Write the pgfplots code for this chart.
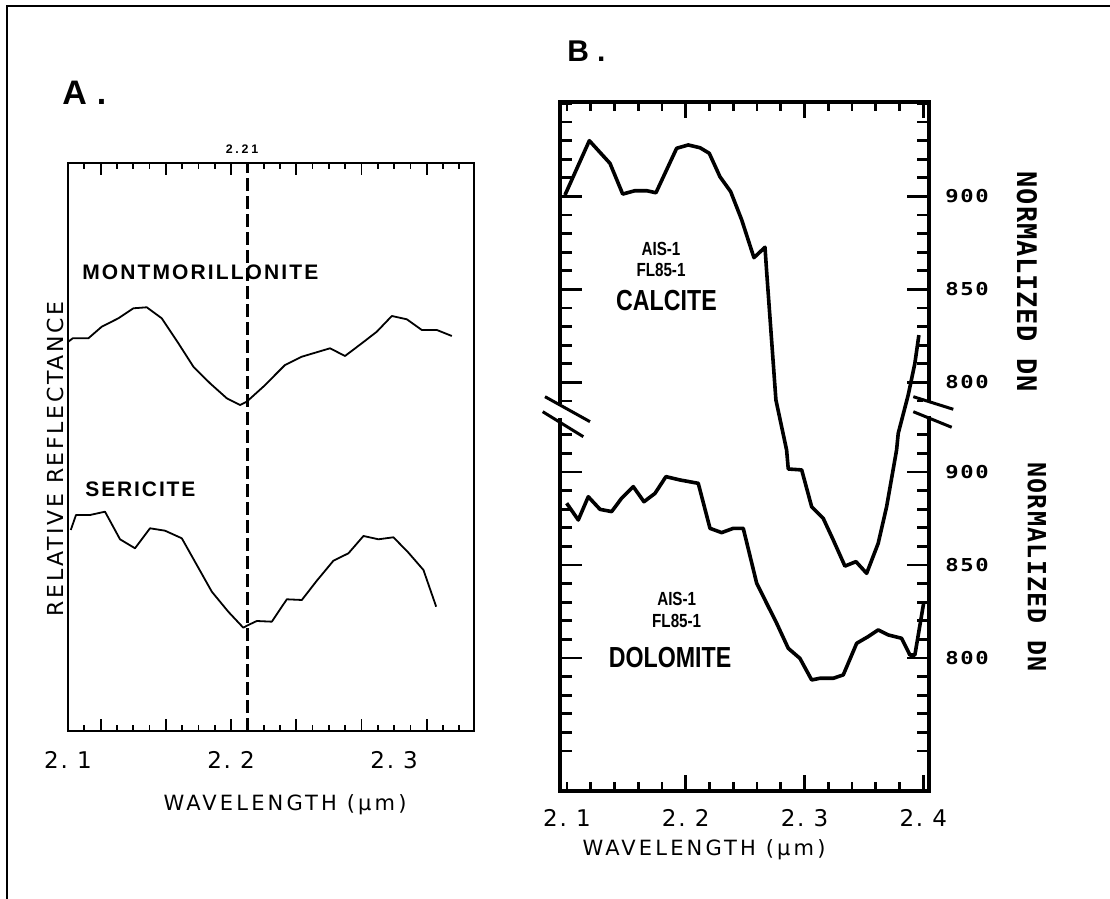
\documentclass[border=0pt]{standalone}
\usepackage{fontspec}
\setmainfont{Liberation Sans}
\newfontfamily\plotfont{DejaVu Sans}
\newfontfamily\numfont[FakeStretch=1.25]{DejaVu Sans Mono}
\newfontfamily\dnfont{DejaVu Sans Mono}
\newfontfamily\condfont[FakeStretch=0.8]{Liberation Sans}
\usepackage{pgfplots}
\pgfplotsset{compat=1.18}

\newcommand\ticklab{\plotfont\fontsize{11.5}{11.5}\selectfont\addfontfeatures{LetterSpace=8}}
\newcommand\wavelab{\plotfont\fontsize{10.5}{10.5}\selectfont\addfontfeatures{LetterSpace=15}}
\newcommand\dnlab{\numfont\bfseries\fontsize{8.9}{8.9}\selectfont\addfontfeatures{LetterSpace=9}}

\pgfplotsset{
  panel/.style={scale only axis, anchor=south west, clip=true},
}

\begin{document}
\begin{tikzpicture}
\useasboundingbox (0,0) rectangle (555pt,449.5pt);

% ---------- panel A ----------
\begin{axis}[panel,
  at={(34pt,84pt)}, width=203pt, height=284pt,
  xmin=2.1, xmax=2.349, ymin=0, ymax=568,
  axis line style={line width=1.1pt},
  xtick={2.12,2.16,2.20,2.24,2.28,2.32},
  xticklabels={,,,,,},
  minor xtick={2.11,2.13,2.14,2.15,2.17,2.18,2.19,2.21,2.22,2.23,2.25,2.26,2.27,2.29,2.30,2.31,2.33,2.34},
  ytick=\empty,
  major tick length=6pt, minor tick length=3pt,
  tick style={line width=0.9pt, black},
  extra x ticks={2.1,2.2,2.3},
  extra x tick labels={2.\ 1,2.\ 2,2.\ 3},
  extra x tick style={tick style={draw=none}},
  xticklabel style={font=\ticklab, anchor=center, inner sep=0pt, yshift=-14.5pt},
]
% montmorillonite
\addplot[black, line width=0.9pt, line join=round] coordinates {
(2.1002,389.3) (2.1029,392.7) (2.1125,392.7) (2.1207,404.3) (2.1309,412.7)
(2.1401,422.7) (2.1483,423.7) (2.1575,412.7) (2.1677,387.7) (2.1769,364.3)
(2.1871,347.7) (2.1974,332.7) (2.2055,326) (2.2096,329.3) (2.2198,344.3)
(2.2331,366) (2.2434,374.3) (2.2607,382.7) (2.2699,375) (2.2802,387.7)
(2.2894,399.3) (2.2986,415) (2.3078,411.7) (2.3170,401) (2.3262,401) (2.3354,395)
};
% sericite
\addplot[black, line width=0.9pt, line join=round] coordinates {
(2.1017,201) (2.1049,216) (2.1135,216) (2.1227,219.3) (2.1319,191.7)
(2.1411,182.7) (2.1503,202.7) (2.1595,200.3) (2.1698,192.7) (2.1790,166)
(2.1882,139.3) (2.1983,119.3) (2.2075,103.3) (2.2106,106) (2.2158,110)
(2.2250,109.3) (2.2342,131.7) (2.2434,131) (2.2526,150.3) (2.2628,170.3)
(2.2720,177.7) (2.2812,195) (2.2904,191.7) (2.2996,193.7) (2.3088,178.3)
(2.3180,161) (2.3258,124.3)
};
% 2.21 um feature
\addplot[black, line width=1.2pt, dash pattern=on 6.5pt off 2.5pt] coordinates {(2.21,0) (2.21,568)};
\end{axis}

% ---------- panel B: frame and wavelength ticks ----------
\begin{axis}[panel,
  at={(280pt,54pt)}, width=184.5pt, height=344.5pt,
  xmin=2.0941, xmax=2.4048, ymin=0, ymax=1,
  axis line style={line width=2pt},
  xtick={2.2,2.3,2.4},
  xticklabels={,,},
  minor xtick={2.10,2.12,2.14,2.16,2.18,2.22,2.24,2.26,2.28,2.32,2.34,2.36,2.38},
  ytick=\empty,
  major tick length=8pt, minor tick length=4.5pt,
  tick style={line width=1.4pt, black},
  extra x ticks={2.1,2.2,2.3,2.4},
  extra x tick labels={2.\ 1,2.\ 2,2.\ 3,2.\ 4},
  extra x tick style={tick style={draw=none}},
  xticklabel style={font=\ticklab, anchor=center, inner sep=0pt, yshift=-13.5pt},
]
\end{axis}

% calcite, upper DN scale
\begin{axis}[panel,
  at={(280pt,54pt)}, width=184.5pt, height=344.5pt,
  xmin=2.0941, xmax=2.4048, ymin=580.4, ymax=950.8,
  axis line style={draw=none},
  xtick=\empty,
  ytick={800,850,900}, yticklabels={800,850,900},
  minor ytick={790,810,820,830,840,860,870,880,890,910,920,930,940,950},
  yticklabel pos=right, ytick pos=both,
  major tick length=11pt, minor tick length=6pt,
  tick style={line width=1.4pt, black},
  yticklabel style={font=\dnlab, anchor=center, inner sep=0pt, xshift=19pt},
]
\addplot[black, line width=1.8pt, line join=round] coordinates {
(2.0983,900.8) (2.1188,930.0) (2.1362,917.8) (2.1469,901.3) (2.1572,903.1)
(2.1671,903.1) (2.1749,902.0) (2.1923,925.9) (2.2021,927.7) (2.2120,926.2)
(2.2198,923.2) (2.2288,910.6) (2.2378,902.6) (2.2471,887.4) (2.2574,867.1)
(2.2667,872.7) (2.2681,859.6) (2.2759,790.6) (2.2849,763.7) (2.2863,753.5)
(2.2976,753.0) (2.3060,733.2) (2.3157,727.0) (2.3242,715.3) (2.3340,701.3)
(2.3433,703.7) (2.3523,697.4) (2.3620,713.5) (2.3691,733.2) (2.3775,763.7)
(2.3789,772.7) (2.3873,793.3) (2.3929,810.3) (2.3963,825.5)
};
\end{axis}

% dolomite, lower DN scale
\begin{axis}[panel,
  at={(280pt,54pt)}, width=184.5pt, height=344.5pt,
  xmin=2.0941, xmax=2.4048, ymin=728.5, ymax=1098.9,
  axis line style={draw=none},
  xtick=\empty,
  ytick={800,850,900}, yticklabels={800,850,900},
  minor ytick={750,760,770,780,790,810,820,830,840,860,870,880,890,910,920},
  yticklabel pos=right, ytick pos=both,
  major tick length=11pt, minor tick length=6pt,
  tick style={line width=1.4pt, black},
  yticklabel style={font=\dnlab, anchor=center, inner sep=0pt, xshift=19pt},
]
\addplot[black, line width=1.8pt, line join=round] coordinates {
(2.0997,883.2) (2.1095,874.2) (2.1179,886.7) (2.1278,879.9) (2.1376,878.7)
(2.1460,885.9) (2.1558,892.1) (2.1648,884.0) (2.1741,888.5) (2.1833,897.5)
(2.1951,895.7) (2.2105,893.9) (2.2204,869.7) (2.2302,867.4) (2.2400,869.7)
(2.2484,869.7) (2.2597,840.2) (2.2681,829.4) (2.2765,818.7) (2.2863,805.2)
(2.2961,799.8) (2.3060,788.2) (2.3130,789.1) (2.3242,789.1) (2.3326,790.9)
(2.3439,807.9) (2.3536,811.5) (2.3620,815.1) (2.3704,812.4) (2.3817,810.6)
(2.3887,801.6) (2.3929,801.6) (2.4005,830.3)
};
\end{axis}

% ---------- frame, axis breaks and text (pixel grid, y down) ----------
\begin{scope}[x=0.5pt, y=-0.5pt, shift={(0pt,449.5pt)}]
\draw[line width=1pt] (7,905) -- (7,6) -- (1115,6);

% scale breaks
\fill[white] (555,404) rectangle (566,418);
\fill[white] (923,401) rectangle (935,416);
\draw[line width=1.5pt] (545,396.7) -- (590,421.7);
\draw[line width=1.5pt] (542.7,411.7) -- (583.3,436.7);
\draw[line width=1.5pt] (913.3,396.7) -- (953.3,409.3);
\draw[line width=1.5pt] (913.3,411.7) -- (951.7,427.3);

% panel letters
\node[anchor=base west, inner sep=0pt, font=\bfseries\fontsize{17}{17}\selectfont] at (62,105) {A\hspace{5pt}.};
\node[anchor=base west, inner sep=0pt, font=\bfseries\fontsize{15}{15}\selectfont] at (567,62) {B\hspace{4pt}.};

% panel A text
\node[inner sep=0pt, font=\bfseries\fontsize{6.2}{6.2}\selectfont\addfontfeatures{LetterSpace=22}] at (242,149) {2.21};
\node[anchor=base west, inner sep=0pt, font=\bfseries\fontsize{10.5}{10.5}\selectfont\addfontfeatures{LetterSpace=10}] at (82,280) {MONTMORILLONITE};
\node[anchor=base west, inner sep=0pt, font=\bfseries\fontsize{10.5}{10.5}\selectfont\addfontfeatures{LetterSpace=9}] at (85,497) {SERICITE};
\node[rotate=90, inner sep=0pt, font=\plotfont\fontsize{11}{11}\selectfont\addfontfeatures{LetterSpace=12}] at (55,459) {RELATIVE REFLECTANCE};
\node[inner sep=0pt, font=\wavelab] at (285,805) {WAVELENGTH (μm)};

% panel B text
\node[inner sep=0pt, font=\condfont\bfseries\fontsize{9.5}{9.5}\selectfont] at (661,249) {AIS-1};
\node[inner sep=0pt, font=\condfont\bfseries\fontsize{9.5}{9.5}\selectfont] at (661,270) {FL85-1};
\node[inner sep=0pt, font=\condfont\bfseries\fontsize{14.5}{14.5}\selectfont] at (666.5,301) {CALCITE};
\node[inner sep=0pt, font=\condfont\bfseries\fontsize{9.5}{9.5}\selectfont] at (676.7,599) {AIS-1};
\node[inner sep=0pt, font=\condfont\bfseries\fontsize{9.5}{9.5}\selectfont] at (676.7,621) {FL85-1};
\node[inner sep=0pt, font=\condfont\bfseries\fontsize{14.5}{14.5}\selectfont] at (670,658) {DOLOMITE};
\node[inner sep=0pt, font=\wavelab] at (704,850) {WAVELENGTH (μm)};
\node[rotate=-90, inner sep=0pt, font=\dnfont\bfseries\fontsize{13.5}{13.5}\selectfont\addfontfeatures{LetterSpace=3}] at (1027,282) {NORMALIZED DN};
\node[rotate=-90, inner sep=0pt, font=\dnfont\bfseries\fontsize{12.5}{12.5}\selectfont\addfontfeatures{LetterSpace=5}] at (1037,567) {NORMALIZED DN};
\end{scope}
\end{tikzpicture}
\end{document}
